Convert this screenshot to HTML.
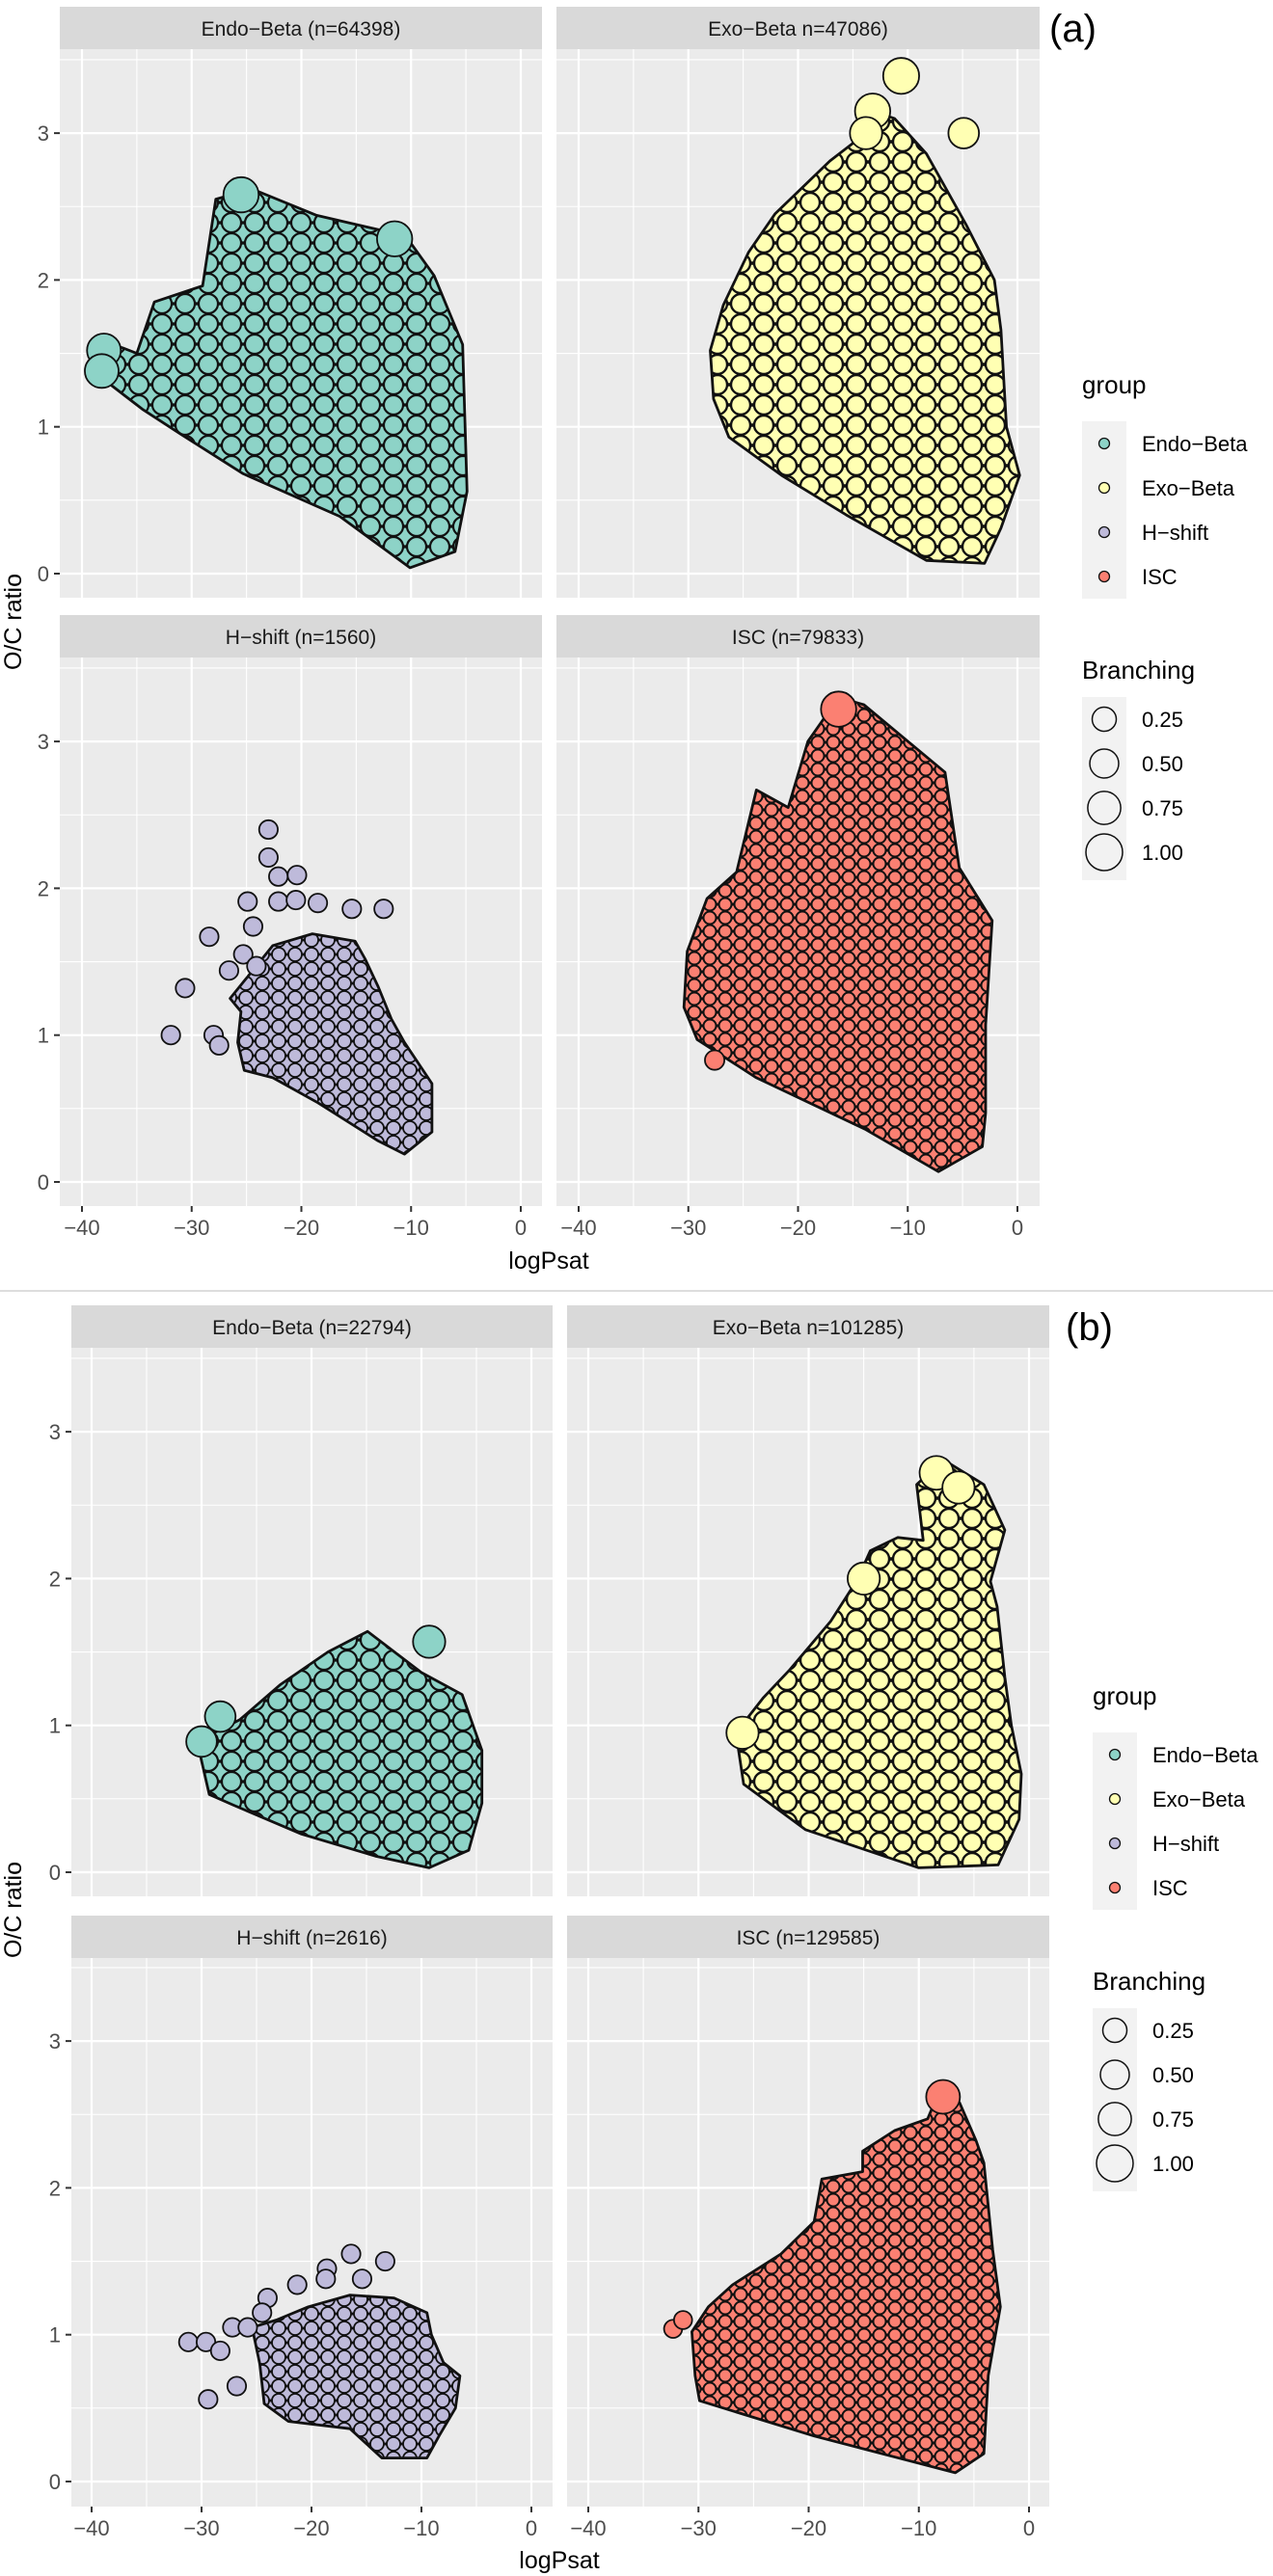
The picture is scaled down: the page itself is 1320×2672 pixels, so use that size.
<!DOCTYPE html>
<html><head><meta charset="utf-8"><style>
html,body{margin:0;padding:0;background:#fff}
svg{display:block}
text{font-family:"Liberation Sans",Arial,sans-serif}
</style></head><body>
<svg id="chart" xmlns="http://www.w3.org/2000/svg" width="1320" height="2672" viewBox="0 0 1320 2672">
<defs>
<pattern id="pat-endo" patternUnits="userSpaceOnUse" width="24" height="21"><rect width="24" height="21" fill="#8DD3C7"/><circle cx="12" cy="10.5" r="10" fill="#8DD3C7" stroke="#111" stroke-width="2.2"/><circle cx="0" cy="0" r="10" fill="#8DD3C7" stroke="#111" stroke-width="2.2"/><circle cx="24" cy="0" r="10" fill="#8DD3C7" stroke="#111" stroke-width="2.2"/><circle cx="0" cy="21" r="10" fill="#8DD3C7" stroke="#111" stroke-width="2.2"/><circle cx="24" cy="21" r="10" fill="#8DD3C7" stroke="#111" stroke-width="2.2"/></pattern>
<pattern id="pat-exo" patternUnits="userSpaceOnUse" width="24" height="21"><rect width="24" height="21" fill="#FFFFB3"/><circle cx="12" cy="10.5" r="10" fill="#FFFFB3" stroke="#111" stroke-width="2.4"/><circle cx="0" cy="0" r="10" fill="#FFFFB3" stroke="#111" stroke-width="2.4"/><circle cx="24" cy="0" r="10" fill="#FFFFB3" stroke="#111" stroke-width="2.4"/><circle cx="0" cy="21" r="10" fill="#FFFFB3" stroke="#111" stroke-width="2.4"/><circle cx="24" cy="21" r="10" fill="#FFFFB3" stroke="#111" stroke-width="2.4"/></pattern>
<pattern id="pat-hshift" patternUnits="userSpaceOnUse" width="17" height="15"><rect width="17" height="15" fill="#BEBADA"/><circle cx="8.5" cy="7.5" r="7" fill="#BEBADA" stroke="#111" stroke-width="1.8"/><circle cx="0" cy="0" r="7" fill="#BEBADA" stroke="#111" stroke-width="1.8"/><circle cx="17" cy="0" r="7" fill="#BEBADA" stroke="#111" stroke-width="1.8"/><circle cx="0" cy="15" r="7" fill="#BEBADA" stroke="#111" stroke-width="1.8"/><circle cx="17" cy="15" r="7" fill="#BEBADA" stroke="#111" stroke-width="1.8"/></pattern>
<pattern id="pat-isc" patternUnits="userSpaceOnUse" width="16" height="14"><rect width="16" height="14" fill="#FB8072"/><circle cx="8" cy="7" r="6.5" fill="#FB8072" stroke="#111" stroke-width="2"/><circle cx="0" cy="0" r="6.5" fill="#FB8072" stroke="#111" stroke-width="2"/><circle cx="16" cy="0" r="6.5" fill="#FB8072" stroke="#111" stroke-width="2"/><circle cx="0" cy="14" r="6.5" fill="#FB8072" stroke="#111" stroke-width="2"/><circle cx="16" cy="14" r="6.5" fill="#FB8072" stroke="#111" stroke-width="2"/></pattern>
</defs>
</svg>
<script>
// ---------- data ----------
const X_TICKS = [-40, -30, -20, -10, 0];
const Y_TICKS = [0, 1, 2, 3];
const GROUPS = ["Endo−Beta", "Exo−Beta", "H−shift", "ISC"];
const BRANCH_LEVELS = [0.25, 0.50, 0.75, 1.00];
const BRANCH_LABELS = ["0.25", "0.50", "0.75", "1.00"];

// (a) Endo-Beta cloud outline
const aEndoHullX = [-38.5,-38.5,-34.5,-31,-25.3,-16.5,-10.1,-6,-4.9,-5.3,-7.9,-10.5,-18.6,-24.5,-27.8,-29,-33.4,-35];
const aEndoHullY = [1.6,1.35,1.12,0.95,0.68,0.39,0.04,0.15,0.56,1.56,2.03,2.3,2.44,2.62,2.55,1.96,1.85,1.5];
const aEndoPtsX = [-38.0,-38.2,-25.5,-11.5];
const aEndoPtsY = [1.52,1.38,2.58,2.28];
const aEndoPtsB = [0.8,0.8,0.9,0.9];
// (a) Exo-Beta
const aExoHullX = [-13.2,-13.8,-17.1,-22.1,-24.5,-26.8,-28.0,-27.7,-26.3,-21.5,-15.6,-8.3,-3.0,-1.5,0.2,-1.0,-1.5,-2.1,-4.7,-6.8,-8.3,-11.2];
const aExoHullY = [3.15,3.0,2.81,2.45,2.19,1.83,1.52,1.19,0.93,0.67,0.40,0.09,0.07,0.31,0.67,1.0,1.66,2.0,2.38,2.66,2.86,3.1];
const aExoPtsX = [-10.6,-13.2,-4.9,-13.8];
const aExoPtsY = [3.39,3.15,3.0,3.0];
const aExoPtsB = [0.95,0.9,0.6,0.7];
// (a) H-shift
const aHsHullX = [-26.5,-22.6,-19.0,-15.1,-14.2,-13.0,-11.8,-10.6,-8.1,-8.1,-10.6,-13.0,-18.5,-22.6,-25.2,-25.8,-25.5];
const aHsHullY = [1.25,1.61,1.69,1.64,1.52,1.33,1.11,0.95,0.67,0.34,0.19,0.28,0.54,0.71,0.76,0.95,1.16];
const aHsPtsX = [-23.0,-23.0,-22.1,-20.4,-24.9,-22.1,-20.5,-18.5,-15.4,-12.5,-28.4,-24.4,-25.3,-26.6,-24.1,-30.6,-31.9,-28.0,-27.5];
const aHsPtsY = [2.40,2.21,2.08,2.09,1.91,1.91,1.92,1.90,1.86,1.86,1.67,1.74,1.55,1.44,1.47,1.32,1.0,1.0,0.93];
const aHsPtsB = [0.02,0.02,0.02,0.02,0.02,0.02,0.02,0.02,0.02,0.02,0.02,0.02,0.02,0.02,0.02,0.02,0.02,0.02,0.02];
// (a) ISC
const aIscHullX = [-16.3,-14.0,-6.6,-5.3,-2.3,-2.9,-2.9,-3.2,-7.2,-13.9,-23.8,-29.2,-30.4,-30.1,-28.3,-25.6,-23.8,-20.9,-19.1];
const aIscHullY = [3.30,3.25,2.79,2.14,1.78,1.07,0.47,0.24,0.07,0.36,0.71,0.97,1.19,1.57,1.93,2.11,2.67,2.55,3.0];
const aIscPtsX = [-27.6,-16.3];
const aIscPtsY = [0.83,3.22];
const aIscPtsB = [0.05,0.9];
// (b) Endo-Beta
const bEndoHullX = [-30.4,-29.3,-27.2,-20.9,-14.2,-9.3,-5.7,-4.5,-4.5,-6.3,-10.0,-14.9,-18.5,-22.8,-26.5];
const bEndoHullY = [0.89,0.53,0.46,0.26,0.11,0.03,0.15,0.47,0.83,1.21,1.36,1.64,1.50,1.28,1.04];
const bEndoPtsX = [-28.3,-9.3,-30.0];
const bEndoPtsY = [1.06,1.57,0.89];
const bEndoPtsB = [0.6,0.7,0.6];
// (b) Exo-Beta
const bExoHullX = [-26.6,-25.9,-20.3,-10.0,-2.8,-0.9,-0.7,-1.6,-2.2,-2.9,-3.5,-2.2,-4.1,-7.8,-10.2,-9.6,-11.9,-14.4,-15.6,-18.0,-21.7,-24.1];
const bExoHullY = [0.95,0.60,0.29,0.03,0.05,0.36,0.67,1.0,1.33,1.81,1.98,2.33,2.64,2.81,2.64,2.26,2.28,2.19,1.99,1.71,1.38,1.19];
const bExoPtsX = [-8.4,-6.4,-15.0,-26.0];
const bExoPtsY = [2.72,2.62,2.0,0.95];
const bExoPtsB = [0.8,0.7,0.7,0.7];
// (b) H-shift
const bHsHullX = [-25.4,-23.2,-20.3,-16.5,-12.5,-9.5,-9.1,-8.0,-6.5,-6.9,-8.4,-9.5,-13.6,-16.5,-22.1,-24.3,-24.7];
const bHsHullY = [1.05,1.10,1.19,1.27,1.25,1.15,1.0,0.81,0.72,0.50,0.31,0.16,0.16,0.36,0.41,0.53,0.80];
const bHsPtsX = [-31.2,-29.6,-29.4,-28.3,-26.8,-27.2,-25.8,-24.0,-24.5,-21.3,-18.6,-16.4,-13.3,-15.4,-18.7];
const bHsPtsY = [0.95,0.95,0.56,0.89,0.65,1.05,1.05,1.25,1.15,1.34,1.45,1.55,1.50,1.38,1.38];
const bHsPtsB = [0.02,0.02,0.02,0.02,0.02,0.02,0.02,0.02,0.02,0.02,0.02,0.02,0.02,0.02,0.02];
// (b) ISC
const bIscHullX = [-7.8,-6.3,-4.8,-4.1,-3.3,-2.6,-3.7,-4.1,-6.7,-10.8,-19.5,-29.9,-30.3,-30.6,-29.1,-26.9,-22.5,-19.5,-18.8,-15.1,-15.1,-12.2,-9.2];
const bIscHullY = [2.72,2.58,2.32,2.17,1.58,1.19,0.72,0.19,0.06,0.14,0.31,0.55,0.72,1.02,1.19,1.34,1.55,1.77,2.06,2.11,2.25,2.39,2.47];
const bIscPtsX = [-32.3,-31.4,-7.8];
const bIscPtsY = [1.04,1.10,2.62];
const bIscPtsB = [0.0,0.0,0.8];

// ---------- rendering ----------
const NS = "http://www.w3.org/2000/svg";
const svg = document.getElementById("chart");
const COLORS = {endo:"#8DD3C7", exo:"#FFFFB3", hshift:"#BEBADA", isc:"#FB8072"};
const GCOL = ["#8DD3C7","#FFFFB3","#BEBADA","#FB8072"];
function mk(tag, attrs, parent){const e=document.createElementNS(NS,tag);for(const k in attrs)e.setAttribute(k,attrs[k]);(parent||svg).appendChild(e);return e;}
function txt(s, attrs, parent){const e=mk("text",attrs,parent);e.textContent=s;return e;}
function diam(b){return Math.sqrt(352+1092*b);}

let clipId=0;
function panel(p){
  const g = mk("g",{});
  
  
  const sx = v => p.xm40 + (v+40)*(p.x0 - p.xm40)/40;
  const sy = v => p.y0 - v*152.3;
  const st = mk("rect",{x:p.L,y:p.ST,width:p.R-p.L,height:p.T-p.ST,fill:"#D9D9D9"},g);
  
  
  const sl = txt(p.label,{x:(p.L+p.R)/2,y:p.ST+30,"text-anchor":"middle","font-size":"21",fill:"#1A1A1A"},g);
  
  
  const bg = mk("rect",{x:p.L,y:p.T,width:p.R-p.L,height:p.B-p.T,fill:"#EBEBEB"},g);
  
  
  for(let v=-45; v<=5; v+=10){const x=sx(v); if(x>p.L&&x<p.R) mk("line",{x1:x,x2:x,y1:p.T,y2:p.B,stroke:"#fff","stroke-width":1.1},g);}
  for(let v=-0.5; v<=4; v+=1){const y=sy(v); if(y>p.T&&y<p.B) mk("line",{x1:p.L,x2:p.R,y1:y,y2:y,stroke:"#fff","stroke-width":1.1},g);}
  X_TICKS.forEach(v=>{const x=sx(v); mk("line",{x1:x,x2:x,y1:p.T,y2:p.B,stroke:"#fff","stroke-width":2.2},g);});
  Y_TICKS.forEach(v=>{const y=sy(v); mk("line",{x1:p.L,x2:p.R,y1:y,y2:y,stroke:"#fff","stroke-width":2.2},g);});
  const cid="clip"+(clipId++);
  const cp=mk("clipPath",{id:cid},g); mk("rect",{x:p.L,y:p.T,width:p.R-p.L,height:p.B-p.T},cp);
  const marks=mk("g",{"clip-path":"url(#"+cid+")"},g);
  const pts = p.hx.map((v,i)=>sx(v).toFixed(1)+","+sy(p.hy[i]).toFixed(1)).join(" ");
  const poly = mk("polygon",{points:pts,fill:"url(#"+p.pat+")",stroke:"#111","stroke-width":2.8,"stroke-linejoin":"round"},marks);
  
  
  p.px.forEach((v,i)=>{
    const c = mk("circle",{cx:sx(v),cy:sy(p.py[i]),r:diam(p.pb[i])/2,fill:p.col,stroke:"#111","stroke-width":1.8},marks);
    
    
  });
  if(p.left){
    Y_TICKS.forEach(v=>{const y=sy(v);
      mk("line",{x1:p.L-6,x2:p.L,y1:y,y2:y,stroke:"#333","stroke-width":2},g);
      const t=txt(String(v),{x:p.L-11,y:y+8,"text-anchor":"end","font-size":"22",fill:"#4D4D4D"},g);
      
      
    });
  }
  if(p.bottom){
    X_TICKS.forEach(v=>{const x=sx(v);
      mk("line",{x1:x,x2:x,y1:p.B,y2:p.B+6,stroke:"#333","stroke-width":2},g);
      const t=txt(String(v).replace("-","−"),{x:x,y:p.B+30,"text-anchor":"middle","font-size":"22",fill:"#4D4D4D"},g);
      
      
    });
  }
}

function figure(f){
  const top=f.top, bot=f.bot;
  const defs=[
    {name:"panel-endo-beta",label:f.labels[0],L:f.lx[0],R:f.lx[1],ST:top[0],T:top[1],B:top[2],y0:top[3],xm40:f.xl[0],x0:f.xl[1],hx:f.d[0][0],hy:f.d[0][1],px:f.d[0][2],py:f.d[0][3],pb:f.d[0][4],pat:"pat-endo",col:COLORS.endo,left:true,bottom:false},
    {name:"panel-exo-beta",label:f.labels[1],L:f.rx[0],R:f.rx[1],ST:top[0],T:top[1],B:top[2],y0:top[3],xm40:f.xr[0],x0:f.xr[1],hx:f.d[1][0],hy:f.d[1][1],px:f.d[1][2],py:f.d[1][3],pb:f.d[1][4],pat:"pat-exo",col:COLORS.exo,left:false,bottom:false},
    {name:"panel-h-shift",label:f.labels[2],L:f.lx[0],R:f.lx[1],ST:bot[0],T:bot[1],B:bot[2],y0:bot[3],xm40:f.xl[0],x0:f.xl[1],hx:f.d[2][0],hy:f.d[2][1],px:f.d[2][2],py:f.d[2][3],pb:f.d[2][4],pat:"pat-hshift",col:COLORS.hshift,left:true,bottom:true},
    {name:"panel-isc",label:f.labels[3],L:f.rx[0],R:f.rx[1],ST:bot[0],T:bot[1],B:bot[2],y0:bot[3],xm40:f.xr[0],x0:f.xr[1],hx:f.d[3][0],hy:f.d[3][1],px:f.d[3][2],py:f.d[3][3],pb:f.d[3][4],pat:"pat-isc",col:COLORS.isc,left:false,bottom:true}
  ];
  defs.forEach(panel);
  const xt=txt("logPsat",{x:f.xtitle[0],y:f.xtitle[1],"text-anchor":"middle","font-size":"25",fill:"#000"});
  
  
  const yt=txt("O/C ratio",{x:0,y:0,"text-anchor":"middle","font-size":"25",fill:"#000",transform:"translate(22,"+f.ytitleY+") rotate(-90)"});
  
  
  const tag=txt(f.tag,{x:f.tagPos[0],y:f.tagPos[1],"font-size":"40",fill:"#000"});
  
  
  const lx=f.leg[0], ly=f.leg[1];
  const lg=mk("g",{});
  
  
  txt("group",{x:lx,y:ly+9,"font-size":"26",fill:"#000"},lg);
  mk("rect",{x:lx,y:ly+38,width:46,height:184,fill:"#F2F2F2"},lg);
  GROUPS.forEach((gname,i)=>{
    const cy=ly+61+46*i;
    const e=mk("g",{},lg);
    
    
    mk("circle",{cx:lx+23,cy:cy,r:5.5,fill:GCOL[i],stroke:"#111","stroke-width":1.3},e);
    txt(gname,{x:lx+62,y:cy+8,"font-size":"22",fill:"#000"},e);
  });
  const bl=mk("g",{});
  
  
  txt("Branching",{x:lx,y:ly+305,"font-size":"26",fill:"#000"},bl);
  mk("rect",{x:lx,y:ly+324,width:46,height:190,fill:"#F2F2F2"},bl);
  BRANCH_LEVELS.forEach((b,i)=>{
    const cy=ly+347+46*i;
    const e=mk("g",{},bl);
    
    
    mk("circle",{cx:lx+23,cy:cy,r:diam(b)/2,fill:"none",stroke:"#111","stroke-width":1.5},e);
    txt(BRANCH_LABELS[i],{x:lx+62,y:cy+8,"font-size":"22",fill:"#000"},e);
  });
}

figure({
  labels:["Endo−Beta (n=64398)","Exo−Beta n=47086)","H−shift (n=1560)","ISC (n=79833)"],
  lx:[62,562], rx:[577,1078], xl:[85,540], xr:[600,1055],
  top:[7,51,620,595], bot:[638,682,1251,1226],
  d:[[aEndoHullX,aEndoHullY,aEndoPtsX,aEndoPtsY,aEndoPtsB],[aExoHullX,aExoHullY,aExoPtsX,aExoPtsY,aExoPtsB],[aHsHullX,aHsHullY,aHsPtsX,aHsPtsY,aHsPtsB],[aIscHullX,aIscHullY,aIscPtsX,aIscPtsY,aIscPtsB]],
  xtitle:[569,1316], ytitleY:645, tag:"(a)", tagPos:[1088,43], leg:[1122,399]
});
const sep=mk("line",{x1:0,x2:1320,y1:1339,y2:1339,stroke:"#DDDDDD","stroke-width":2});


figure({
  labels:["Endo−Beta (n=22794)","Exo−Beta n=101285)","H−shift (n=2616)","ISC (n=129585)"],
  lx:[74,573], rx:[588,1088], xl:[95,551], xr:[610,1067],
  top:[1354,1398,1967,1942], bot:[1987,2031,2600,2574],
  d:[[bEndoHullX,bEndoHullY,bEndoPtsX,bEndoPtsY,bEndoPtsB],[bExoHullX,bExoHullY,bExoPtsX,bExoPtsY,bExoPtsB],[bHsHullX,bHsHullY,bHsPtsX,bHsPtsY,bHsPtsB],[bIscHullX,bIscHullY,bIscPtsX,bIscPtsY,bIscPtsB]],
  xtitle:[580,2664], ytitleY:1981, tag:"(b)", tagPos:[1105,1390], leg:[1133,1759]
});
</script>
</body></html>
